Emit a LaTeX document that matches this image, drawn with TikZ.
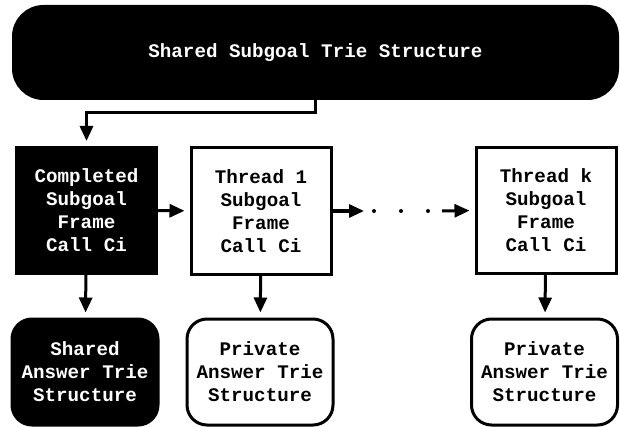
\documentclass[tikz,border=0pt]{standalone}
\usepackage{fontspec}
\setmonofont{Liberation Mono}
\usepackage{tikz}
\usetikzlibrary{arrows.meta,positioning}
\tikzset{
  >={Triangle[length=7.5pt,width=6.5pt]},
  every node/.style={font=\ttfamily\bfseries\fontsize{9.6}{11.5}\selectfont,
    align=center, inner sep=0pt},
  frame/.style={
    rectangle,
    draw=black, line width=1.5pt,
    minimum width=70pt,
    minimum height=63pt},
  darkframe/.style={frame, fill=black, text=white},
  trie/.style={
    rectangle,
    rounded corners=10pt,
    draw=black, line width=1.5pt,
    minimum width=73pt,
    minimum height=53pt},
  darktrie/.style={trie, fill=black, text=white},
  line/.style={draw, line width=1.5pt, ->, shorten >=2.5pt},
}
\begin{document}
\begin{tikzpicture}[x=0.5pt,y=-0.5pt]
  \useasboundingbox (0,0) rectangle (620,427);
  % subgoal trie
  \node[darktrie, rounded corners=15pt, minimum width=302pt, minimum height=46pt]
    (subtrie) at (315.5,52.5) {Shared Subgoal Trie Structure};
  % subgoal frames
  \node[darkframe] (completed) at (86.5,210.5) {Completed\\Subgoal\\Frame\\Call Ci};
  \node[frame] (thread1) at (261,211) {Thread 1\\Subgoal\\Frame\\Call Ci};
  \node[frame] (threadk) at (546,210.5) {Thread k\\Subgoal\\Frame\\Call Ci};
  % answer tries
  \node[darktrie] (shared) at (85,372) {Shared\\Answer Trie\\Structure};
  \node[trie] (private1) at (260,372) {Private\\Answer Trie\\Structure};
  \node[trie] (privatek) at (544.5,372) {Private\\Answer Trie\\Structure};
  % connectors
  \coordinate (bend) at (315,113);
  \path[line] (subtrie.south -| bend) -- (bend) -| (completed.north);
  \path[line] (completed) -- (thread1);
  \coordinate (dotsL) at (364,211);
  \coordinate (dotsR) at (442,211);
  \path[line, shorten >=0pt] (thread1.east) -- (dotsL);
  \foreach \x in {374,401,428}
    \fill (\x,211) circle (1pt);
  \path[line] (dotsR) -- (threadk.west);
  \path[line] (completed) -- (shared);
  \path[line] (thread1) -- (private1);
  \path[line] (threadk) -- (privatek);
\end{tikzpicture}
\end{document}
